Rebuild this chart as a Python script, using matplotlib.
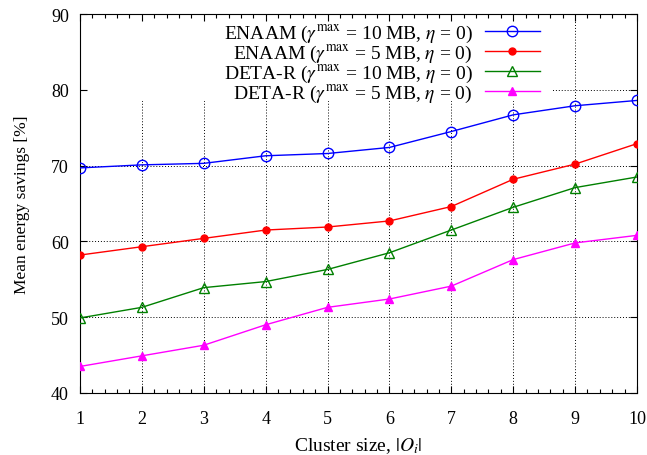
import matplotlib
matplotlib.use("Agg")
import matplotlib.pyplot as plt
from matplotlib.patches import Rectangle
from matplotlib.ticker import AutoMinorLocator

plt.rcParams['font.family'] = ['Liberation Serif', 'DejaVu Serif']
plt.rcParams['mathtext.fontset'] = 'stix'

cluster_size = [1, 2, 3, 4, 5, 6, 7, 8, 9, 10]
enaam_10mb = [69.7, 70.1, 70.3, 71.3, 71.6, 72.4, 74.5, 76.7, 77.9, 78.6]
enaam_5mb = [58.2, 59.3, 60.4, 61.5, 61.9, 62.7, 64.6, 68.2, 70.2, 72.9]
deta_10mb = [49.9, 51.3, 53.9, 54.7, 56.3, 58.5, 61.5, 64.5, 67.1, 68.5]
deta_5mb = [43.5, 44.9, 46.3, 49.0, 51.3, 52.4, 54.1, 57.6, 59.8, 60.8]
y_ticks = [40, 50, 60, 70, 80, 90]

labels = [
    r"ENAAM ($\gamma^{\max}$ = 10 MB, $\eta$ = 0)",
    r"ENAAM ($\gamma^{\max}$ = 5 MB, $\eta$ = 0)",
    r"DETA-R ($\gamma^{\max}$ = 10 MB, $\eta$ = 0)",
    r"DETA-R ($\gamma^{\max}$ = 5 MB, $\eta$ = 0)",
]

fs = 14

fig = plt.figure(figsize=(6.47, 4.56), dpi=100)
ax = fig.add_axes([0.1236, 0.136, 0.8609, 0.831])

# dotted grid, drawn by hand so the key box can sit between grid and ticks
for x in cluster_size:
    ax.axvline(x, color='black', linestyle=(0, (1, 2)), linewidth=0.7, zorder=1)
for y in y_ticks:
    ax.axhline(y, color='black', linestyle=(0, (1, 2)), linewidth=0.7, zorder=1)

# opaque key area (gnuplot style)
ax.add_patch(Rectangle((0, 0.77), 0.847, 0.23, transform=ax.transAxes,
                       facecolor='white', edgecolor='none', zorder=1.2))

ax.plot(cluster_size, enaam_10mb, color='#0000ff', lw=1, marker='o', ms=7.5,
        mfc='none', mew=1, label=labels[0], zorder=3)
ax.plot(cluster_size, enaam_5mb, color='#ff0000', lw=1, marker='o', ms=5,
        label=labels[1], zorder=3)
ax.plot(cluster_size, deta_10mb, color='#008000', lw=1, marker='^', ms=7,
        mfc='none', mew=1, label=labels[2], zorder=3)
ax.plot(cluster_size, deta_5mb, color='#ff00ff', lw=1, marker='^', ms=6,
        label=labels[3], zorder=3)

ax.set_xlim(1, 10)
ax.set_ylim(40, 90)
ax.set_xticks(cluster_size)
ax.set_yticks(y_ticks)
ax.xaxis.set_minor_locator(AutoMinorLocator(5))
ax.tick_params(which='both', direction='in', top=True, right=True,
               labelsize=13)
ax.tick_params(axis='x', pad=12)
ax.tick_params(axis='y', pad=8)
ax.tick_params(which='major', length=5, width=0.8)
ax.tick_params(which='minor', length=3, width=0.8)

ax.set_xlabel(r"Cluster size, $|O_i|$", fontsize=fs, labelpad=6)
ax.set_ylabel("Mean energy savings [%]", fontsize=12.5, labelpad=15)

leg = ax.legend(loc='upper right', bbox_to_anchor=(0.826, 0.977),
                markerfirst=False, frameon=False, fontsize=fs,
                handlelength=2.85, labelspacing=-0.08, borderpad=0,
                borderaxespad=0, handletextpad=0.6)
leg.set_zorder(5)

fig.savefig("out.png", dpi=100)
